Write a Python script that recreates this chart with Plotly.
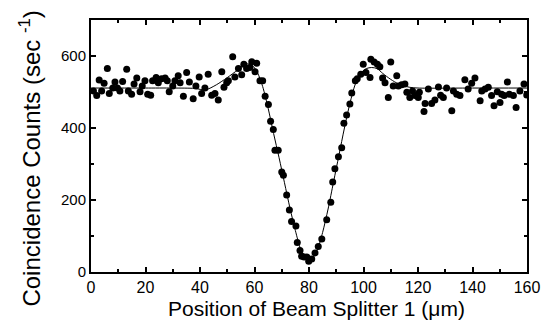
import plotly.graph_objects as go

# Measured data points (position in µm, coincidence counts per sec)
pos_um = [0.9, 2.1, 3.0, 3.9, 4.8, 6.0, 6.7, 8.0, 8.8, 9.7, 10.6, 11.6, 13.1, 13.7, 14.9,
          15.8, 16.8, 18.0, 18.8, 19.8, 20.8, 21.9, 22.6, 23.9, 24.7, 25.9, 27.2, 28.0, 28.7,
          30.0, 30.8, 32.0, 32.7, 33.9, 35.1, 36.1, 37.5, 38.5, 39.7, 40.6, 41.8, 43.0, 44.3,
          45.5, 46.7, 48.0, 48.8, 49.8, 50.4, 52.0, 52.8, 54.1, 55.3, 56.1, 57.1, 58.3, 59.0,
          60.2, 60.8, 62.0, 63.0, 63.9, 65.1, 65.9, 66.9, 67.5, 68.7, 70.0, 70.6, 71.8, 72.8,
          73.6, 75.2, 75.7, 76.7, 77.3, 78.2, 79.2, 79.9, 81.0, 82.2, 83.4, 84.7, 86.5, 88.0,
          88.7, 89.5, 90.8, 92.0, 92.8, 93.8, 95.0, 95.7, 97.0, 97.7, 99.0, 99.9, 100.9, 102.4,
          102.7, 103.9, 105.1, 106.0, 107.0, 107.9, 109.1, 110.0, 110.9, 112.2, 112.8, 114.0,
          115.2, 115.9, 117.0, 118.0, 118.9, 120.1, 120.5, 122.2, 122.6, 123.8, 125.0, 126.2,
          127.5, 128.3, 129.3, 130.5, 132.4, 133.0, 134.2, 135.4, 137.2, 138.4, 139.7, 140.9,
          142.8, 143.4, 144.6, 145.8, 147.0, 147.9, 149.1, 150.1, 150.7, 151.6, 152.8, 153.5,
          155.0, 156.0, 157.4, 158.9, 159.9]
counts = [503, 490, 533, 503, 524, 565, 496, 511, 528, 511, 503, 529, 563, 503, 494,
          522, 539, 501, 517, 531, 494, 491, 531, 540, 526, 537, 539, 531, 501,
          517, 531, 545, 526, 488, 554, 528, 481, 517, 542, 496, 511, 549, 491,
          496, 478, 556, 513, 526, 531, 598, 542, 565, 548, 577, 565, 568, 584,
          556, 580, 531, 531, 488, 465, 419, 396, 338, 338, 278, 269, 214, 172,
          140, 128, 82, 60, 44, 42, 42, 30, 36, 53, 71, 92, 145, 194,
          250, 287, 320, 345, 413, 436, 467, 497, 531, 537, 549, 577, 554, 540,
          591, 583, 577, 570, 539, 526, 485, 583, 517, 545, 517, 520,
          522, 499, 485, 503, 490, 485, 499, 446, 468, 508, 468, 478,
          514, 491, 485, 511, 448, 503, 494, 490, 534, 508, 524, 539,
          476, 503, 508, 513, 490, 462, 501, 471, 494, 490, 528, 494,
          490, 457, 503, 522, 492]

# Fitted curve
fit_x = [0, 10, 20, 30, 38, 42, 46, 50, 54, 57, 59, 61, 63, 65, 67, 69, 71, 73, 75, 77,
         79, 80, 81, 83, 85, 87, 89, 91, 93, 95, 97, 99, 101, 103, 105, 107, 110, 113,
         117, 120, 140, 160]
fit_y = [511, 511, 511, 511, 510, 506, 520, 540, 562, 578, 575, 555, 515, 455, 385, 318,
         248, 178, 115, 62, 36, 32, 35, 60, 110, 175, 250, 325, 400, 468, 522, 552, 565,
         568, 565, 552, 535, 522, 513, 511, 511, 511]

x_ticks = [0, 20, 40, 60, 80, 100, 120, 140, 160]
y_ticks = [0, 200, 400, 600]

x_title = "Position of Beam Splitter 1 (μm)"
y_title = "Coincidence Counts (sec <sup>-1</sup>)"

FONT = "Liberation Sans, Arial, sans-serif"

fig = go.Figure()
fig.add_trace(go.Scatter(x=fit_x, y=fit_y, mode="lines",
                         line=dict(color="black", width=1, shape="spline", smoothing=0.8),
                         hoverinfo="skip", showlegend=False))
fig.add_trace(go.Scatter(x=pos_um, y=counts, mode="markers",
                         marker=dict(color="black", size=7),
                         showlegend=False))

axis_common = dict(
    showgrid=False, zeroline=False, showline=True, linecolor="black", linewidth=2,
    mirror="allticks", ticks="inside", ticklen=5, tickwidth=1.5, tickcolor="black",
)

fig.update_xaxes(range=[0, 160], tickvals=x_ticks, ticktext=[str(v) for v in x_ticks],
                 tickfont=dict(family=FONT, size=16, color="black"),
                 minor=dict(ticks="inside", ticklen=3, dtick=10, tick0=0, tickcolor="black"),
                 **axis_common)
fig.update_yaxes(range=[0, 700], tickvals=y_ticks, ticktext=[str(v) for v in y_ticks],
                 tickfont=dict(family=FONT, size=15, color="black"),
                 minor=dict(ticks="inside", ticklen=3, dtick=100, tick0=0, tickcolor="black"),
                 **axis_common)

fig.add_annotation(text=x_title, xref="paper", yref="paper", x=0.518, y=-0.145,
                   xanchor="center", yanchor="middle", showarrow=False,
                   font=dict(family=FONT, size=21, color="black"))
fig.add_annotation(text=y_title, xref="paper", yref="paper", x=-0.14, y=0.45,
                   xanchor="center", yanchor="middle", showarrow=False, textangle=-90,
                   font=dict(family=FONT, size=24, color="black"))

fig.update_layout(width=552, height=330, margin=dict(l=91, r=25, t=20, b=58),
                  paper_bgcolor="white", plot_bgcolor="white")

fig.write_html("out.html")
